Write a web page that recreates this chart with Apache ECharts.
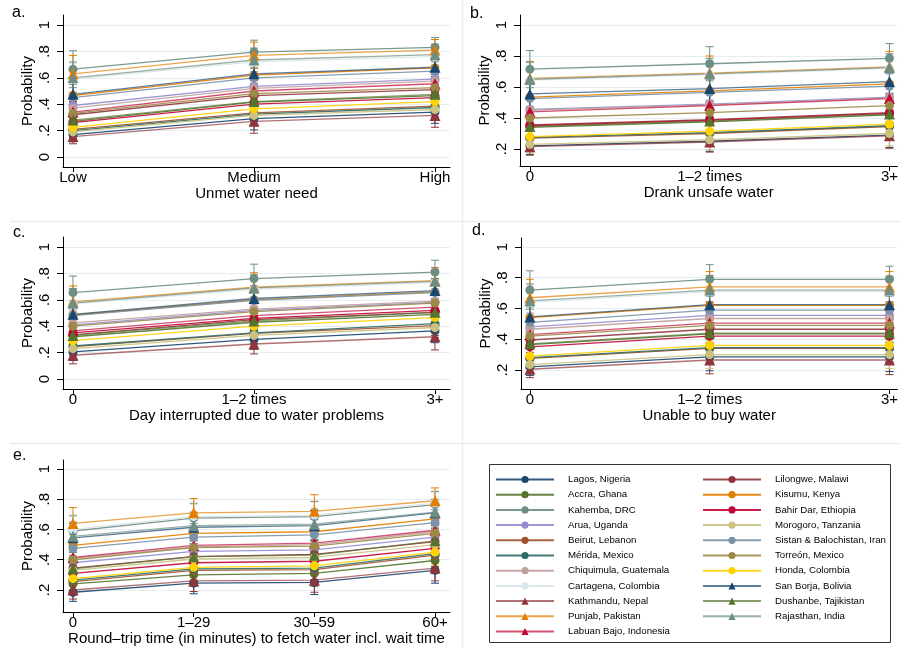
<!DOCTYPE html>
<html>
<head>
<meta charset="utf-8">
<title>Probability by water experience</title>
<script src="https://cdn.jsdelivr.net/npm/echarts@6/dist/echarts.min.js"></script>
<style>
	html,body{margin:0;padding:0;background:#fff;}
	#chart{width:901px;height:648px;}
</style>
</head>
<body>
<div id="chart"></div>
<script>
// sites, in legend order (left column first, then right column)
var sites = ['Lagos, Nigeria','Accra, Ghana','Kahemba, DRC','Arua, Uganda','Beirut, Lebanon',
	'Mérida, Mexico','Chiquimula, Guatemala','Cartagena, Colombia','Kathmandu, Nepal','Punjab, Pakistan',
	'Labuan Bajo, Indonesia','Lilongwe, Malawi','Kisumu, Kenya','Bahir Dar, Ethiopia','Morogoro, Tanzania',
	'Sistan & Balochistan, Iran','Torreón, Mexico','Honda, Colombia','San Borja, Bolivia','Dushanbe, Tajikistan',
	'Rajasthan, India'];
var siteColors = ['#1a476f','#55752f','#6e8e84','#938dd2','#a0522d','#2d6d66','#bfa19c','#d9e6eb',
	'#90353b','#e37e00','#c10534','#90353b','#e37e00','#c10534','#cac27e','#7b92a8','#9c8847','#ffd200',
	'#1a476f','#55752f','#6e8e84'];
var siteSymbols = ['circle','circle','circle','circle','circle','circle','circle','circle',
	'triangle','triangle','triangle','circle','circle','circle','circle','circle','circle','circle',
	'triangle','triangle','triangle'];

var catsA = ['Low','Medium','High'];
var catsTimes = ['0','1–2 times','3+'];
var catsE = ['0','1–29','30–59','60+'];
var yTicksFull = [0, 0.2, 0.4, 0.6, 0.8, 1];
var yTicksShort = [0.2, 0.4, 0.6, 0.8, 1];

// a. unmet water need
var probA = [[0.17,0.29,0.34],[0.27,0.415,0.465],[0.665,0.795,0.83],[0.39,0.535,0.59],[0.21,0.335,0.385],
	[0.20,0.325,0.375],[0.37,0.52,0.575],[0.59,0.72,0.76],[0.155,0.27,0.315],[0.63,0.77,0.81],
	[0.34,0.50,0.555],[0.32,0.465,0.51],[0.465,0.62,0.675],[0.26,0.40,0.45],[0.19,0.315,0.36],
	[0.45,0.60,0.65],[0.33,0.48,0.525],[0.225,0.365,0.42],[0.475,0.63,0.68],[0.28,0.42,0.475],
	[0.60,0.735,0.775]];
var ciA = [[0.055,0.085,0.085],[0.07,0.08,0.075],[0.14,0.09,0.075],[0.09,0.08,0.07],[0.06,0.08,0.08],
	[0.06,0.08,0.08],[0.09,0.08,0.07],[0.12,0.09,0.08],[0.055,0.09,0.09],[0.14,0.10,0.08],
	[0.08,0.08,0.07],[0.08,0.08,0.07],[0.10,0.08,0.07],[0.07,0.08,0.075],[0.06,0.08,0.08],
	[0.10,0.08,0.07],[0.08,0.08,0.07],[0.065,0.08,0.08],[0.10,0.08,0.07],[0.07,0.08,0.075],
	[0.12,0.09,0.08]];

// b. drank unsafe water
var probB = [[0.22,0.25,0.29],[0.34,0.375,0.42],[0.715,0.75,0.785],[0.455,0.49,0.535],[0.27,0.30,0.345],
	[0.275,0.305,0.35],[0.45,0.485,0.53],[0.645,0.68,0.72],[0.215,0.245,0.285],[0.655,0.69,0.73],
	[0.44,0.48,0.525],[0.355,0.39,0.435],[0.535,0.575,0.62],[0.35,0.385,0.43],[0.23,0.26,0.30],
	[0.525,0.565,0.605],[0.40,0.435,0.48],[0.28,0.315,0.36],[0.555,0.59,0.635],[0.345,0.38,0.425],
	[0.65,0.685,0.725]];
var ciB = [[0.055,0.065,0.08],[0.07,0.075,0.08],[0.12,0.11,0.095],[0.08,0.08,0.08],[0.06,0.07,0.08],
	[0.06,0.07,0.08],[0.08,0.08,0.08],[0.11,0.10,0.09],[0.055,0.065,0.08],[0.11,0.11,0.10],
	[0.08,0.08,0.08],[0.07,0.075,0.08],[0.09,0.085,0.08],[0.07,0.075,0.08],[0.055,0.065,0.08],
	[0.09,0.085,0.08],[0.075,0.08,0.08],[0.06,0.07,0.08],[0.09,0.085,0.08],[0.07,0.075,0.08],
	[0.11,0.10,0.09]];

// c. day interrupted due to water problems
var probC = [[0.205,0.30,0.365],[0.32,0.43,0.49],[0.655,0.76,0.81],[0.41,0.52,0.58],[0.245,0.345,0.405],
	[0.25,0.35,0.42],[0.425,0.53,0.59],[0.57,0.68,0.73],[0.18,0.265,0.32],[0.585,0.695,0.745],
	[0.365,0.48,0.545],[0.335,0.45,0.505],[0.485,0.60,0.66],[0.35,0.46,0.52],[0.23,0.33,0.39],
	[0.48,0.595,0.655],[0.40,0.51,0.575],[0.29,0.40,0.465],[0.49,0.61,0.67],[0.33,0.44,0.505],
	[0.575,0.69,0.74]];
var ciC = [[0.065,0.075,0.09],[0.08,0.09,0.09],[0.125,0.11,0.09],[0.09,0.09,0.09],[0.07,0.08,0.09],
	[0.07,0.08,0.09],[0.09,0.09,0.09],[0.11,0.10,0.09],[0.065,0.075,0.10],[0.12,0.11,0.10],
	[0.085,0.09,0.09],[0.08,0.09,0.09],[0.10,0.095,0.09],[0.08,0.09,0.09],[0.07,0.08,0.09],
	[0.10,0.095,0.09],[0.09,0.09,0.09],[0.075,0.085,0.09],[0.10,0.095,0.09],[0.08,0.09,0.09],
	[0.11,0.10,0.09]];

// d. unable to buy water
var probD = [[0.22,0.285,0.285],[0.365,0.435,0.435],[0.72,0.79,0.79],[0.48,0.555,0.555],[0.275,0.34,0.34],
	[0.28,0.345,0.345],[0.465,0.535,0.535],[0.64,0.71,0.71],[0.205,0.265,0.265],[0.67,0.74,0.74],
	[0.43,0.505,0.505],[0.395,0.465,0.465],[0.54,0.62,0.62],[0.35,0.42,0.42],[0.235,0.30,0.30],
	[0.51,0.59,0.59],[0.42,0.49,0.49],[0.29,0.36,0.36],[0.545,0.625,0.625],[0.37,0.44,0.44],
	[0.65,0.72,0.72]];
var ciD = [[0.055,0.09,0.095],[0.08,0.09,0.09],[0.125,0.095,0.085],[0.09,0.09,0.09],[0.065,0.09,0.09],
	[0.065,0.09,0.09],[0.09,0.09,0.09],[0.11,0.095,0.09],[0.055,0.09,0.095],[0.12,0.10,0.10],
	[0.085,0.09,0.09],[0.08,0.09,0.09],[0.10,0.09,0.09],[0.08,0.09,0.09],[0.06,0.09,0.09],
	[0.10,0.09,0.09],[0.085,0.09,0.09],[0.07,0.09,0.09],[0.10,0.09,0.09],[0.08,0.09,0.09],
	[0.11,0.095,0.09]];

// e. round-trip time to fetch water
var probE = [[0.185,0.245,0.25,0.33],[0.24,0.30,0.31,0.395],[0.59,0.675,0.685,0.765],[0.38,0.455,0.465,0.55],
	[0.255,0.33,0.335,0.43],[0.265,0.34,0.345,0.44],[0.41,0.485,0.50,0.585],[0.60,0.685,0.695,0.775],
	[0.20,0.26,0.265,0.345],[0.64,0.71,0.72,0.79],[0.415,0.495,0.51,0.595],[0.345,0.42,0.435,0.52],
	[0.495,0.575,0.585,0.67],[0.31,0.38,0.39,0.475],[0.33,0.405,0.415,0.50],[0.475,0.55,0.565,0.645],
	[0.40,0.48,0.49,0.575],[0.275,0.35,0.36,0.45],[0.545,0.615,0.625,0.71],[0.34,0.42,0.43,0.525],
	[0.555,0.625,0.635,0.715]];
var ciE = [[0.06,0.07,0.08,0.085],[0.065,0.075,0.085,0.085],[0.10,0.095,0.10,0.085],[0.08,0.085,0.095,0.085],
	[0.07,0.075,0.085,0.085],[0.07,0.075,0.085,0.085],[0.085,0.09,0.10,0.085],[0.10,0.095,0.10,0.085],
	[0.06,0.07,0.08,0.085],[0.105,0.095,0.11,0.085],[0.085,0.09,0.10,0.085],[0.08,0.085,0.095,0.085],
	[0.09,0.09,0.10,0.085],[0.075,0.08,0.09,0.085],[0.08,0.085,0.095,0.085],[0.09,0.09,0.10,0.085],
	[0.085,0.09,0.10,0.085],[0.07,0.08,0.09,0.085],[0.095,0.09,0.10,0.085],[0.08,0.085,0.095,0.085],
	[0.095,0.09,0.10,0.085]];

var FONT = '"Liberation Sans", Arial, sans-serif';

var panels = [
	{tag:'a.', tagPos:[12,20], title:'Unmet water need', cats:catsA, ticks:yTicksFull, prob:probA, ci:ciA,
		rect:[63,15,387,152], xr:[-0.0552,2.083], yr:[-0.0758,1.0758]},
	{tag:'b.', tagPos:[470,21], title:'Drank unsafe water', cats:catsTimes, ticks:yTicksShort, prob:probB, ci:ciB,
		rect:[520,15,381,151], xr:[-0.055,2.044], yr:[0.0903,1.0645]},
	{tag:'c.', tagPos:[13,240], title:'Day interrupted due to water problems', cats:catsTimes, ticks:yTicksFull, prob:probC, ci:ciC,
		rect:[63,237,387,152], xr:[-0.0552,2.083], yr:[-0.0758,1.0758]},
	{tag:'d.', tagPos:[472,238], title:'Unable to buy water', cats:catsTimes, ticks:yTicksShort, prob:probD, ci:ciD,
		rect:[521,238,380,151], xr:[-0.0496,2.044], yr:[0.0764,1.0585]},
	{tag:'e.', tagPos:[13,463], title:'Round–trip time (in minutes) to fetch water incl. wait time', cats:catsE, ticks:yTicksFull.slice(1), prob:probE, ci:ciE,
		rect:[63,460,387,152], xr:[-0.0829,3.124], yr:[0.0545,1.0595]}
];

function tickText(v){
	if(v === 0) return '0';
	if(v === 1) return '1';
	return String(Math.round(v*10)/10).replace('0.', '.');
}

// capped spike for each confidence interval
function drawCap(params, api){
	var c = siteColors[api.value(3)];
	var lo = api.coord([api.value(0), api.value(1)]);
	var hi = api.coord([api.value(0), api.value(2)]);
	var w = 4, st = {stroke: c, lineWidth: 1};
	return {type:'group', children:[
		{type:'line', shape:{x1:lo[0], y1:lo[1], x2:hi[0], y2:hi[1]}, style:st},
		{type:'line', shape:{x1:lo[0]-w, y1:lo[1], x2:lo[0]+w, y2:lo[1]}, style:st},
		{type:'line', shape:{x1:hi[0]-w, y1:hi[1], x2:hi[0]+w, y2:hi[1]}, style:st}
	]};
}

var grids = [], xAxes = [], yAxes = [], series = [], graphics = [];

panels.forEach(function(p, i){
	grids.push({left:p.rect[0], top:p.rect[1], width:p.rect[2], height:p.rect[3]});
	var idx = p.cats.map(function(c, j){ return j; });
	xAxes.push({
		gridIndex:i, type:'value', min:p.xr[0], max:p.xr[1],
		name:p.title, nameLocation:'middle', nameGap:18,
		nameTextStyle:{fontSize:15, color:'#000', fontFamily:FONT},
		axisLine:{show:true, onZero:false, lineStyle:{color:'#000', width:1}},
		axisTick:{show:true, length:5, customValues:idx, lineStyle:{color:'#000'}},
		axisLabel:{customValues:idx, margin:3, fontSize:15, color:'#000', fontFamily:FONT,
			formatter:function(v){ return p.cats[Math.round(v)]; }},
		splitLine:{show:false}
	});
	yAxes.push({
		gridIndex:i, type:'value', min:p.yr[0], max:p.yr[1],
		name:'Probability', nameLocation:'middle', nameGap:28,
		nameTextStyle:{fontSize:15, color:'#000', fontFamily:FONT},
		axisLine:{show:true, onZero:false, lineStyle:{color:'#000', width:1}},
		axisTick:{show:true, length:6, customValues:p.ticks, lineStyle:{color:'#000'}},
		axisLabel:{customValues:p.ticks, rotate:90, margin:11, fontSize:15, color:'#000', fontFamily:FONT,
			formatter:tickText},
		splitLine:{show:true, lineStyle:{color:'#e6eef1', width:1}}
	});
	var caps = [];
	sites.forEach(function(s, k){
		var tri = siteSymbols[k] === 'triangle';
		series.push({
			type:'line', name:s, xAxisIndex:i, yAxisIndex:i,
			data:p.prob[k].map(function(v, j){ return [j, v]; }),
			symbol:siteSymbols[k], symbolSize: tri ? 11 : 9, showAllSymbol:true,
			itemStyle:{color:siteColors[k]},
			lineStyle:{color:siteColors[k], width:1.3, opacity: tri ? 0.7 : 0.9},
			z:3
		});
		p.prob[k].forEach(function(v, j){
			caps.push([j, v - p.ci[k][j], v + p.ci[k][j], k]);
		});
	});
	series.push({type:'custom', name:'ci'+i, xAxisIndex:i, yAxisIndex:i, renderItem:drawCap,
		encode:{x:0, y:[1,2]}, data:caps, z:2});
	graphics.push({type:'text', left:p.tagPos[0], top:p.tagPos[1]-15,
		style:{text:p.tag, fontSize:16, fill:'#000', fontFamily:FONT}});
});

// light borders round the combined panels
graphics.push({type:'line', shape:{x1:10, y1:221.5, x2:901, y2:221.5}, style:{stroke:'#e6eef1', lineWidth:1.5}});
graphics.push({type:'line', shape:{x1:10, y1:443.5, x2:901, y2:443.5}, style:{stroke:'#e6eef1', lineWidth:1.5}});
graphics.push({type:'line', shape:{x1:462.5, y1:0, x2:462.5, y2:648}, style:{stroke:'#e6eef1', lineWidth:1.5}});
// legend frame
graphics.push({type:'rect', shape:{x:489.5, y:464.5, width:401, height:178}, style:{fill:'#fff', stroke:'#333', lineWidth:1}, z:-1});

var legendBase = {
	orient:'vertical', itemWidth:58, itemHeight:9, itemGap:5.2, padding:0, selectedMode:false,
	textStyle:{fontSize:9.7, color:'#000', fontFamily:FONT, lineHeight:9, padding:[0,0,0,9]}
};

var chart = echarts.init(document.getElementById('chart'));
chart.setOption({
	animation:false,
	backgroundColor:'#fff',
	grid:grids,
	xAxis:xAxes,
	yAxis:yAxes,
	legend:[
		Object.assign({left:495, top:474.5, data:sites.slice(0,11)}, legendBase),
		Object.assign({left:702, top:474.5, data:sites.slice(11)}, legendBase)
	],
	graphic:graphics,
	series:series
});
</script>
</body>
</html>
